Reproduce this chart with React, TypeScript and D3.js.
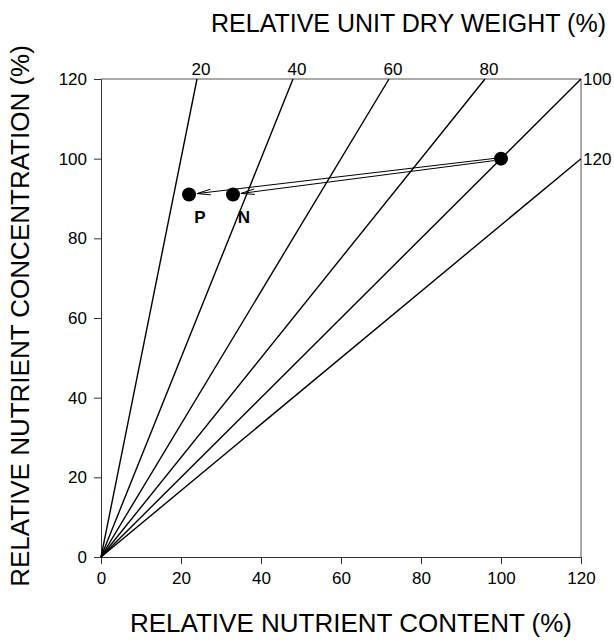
import * as d3 from "d3";
import { useEffect, useRef } from "react";

// dry weight isolines (%), concentration = content / weight * 100
const weights = [20, 40, 60, 80, 100, 120];
const ticks = [0, 20, 40, 60, 80, 100, 120];

// control point and the two nutrients
const start = { x: 100, y: 100 };
const nutrients = [
  { name: "P", x: 22, y: 91 },
  { name: "N", x: 33, y: 91 },
];

const App = () => {
  const ref = useRef(null);

  const margin = { top: 79, left: 101, right: 33, bottom: 83 };
  const width = 614;
  const height = 640;

  useEffect(() => {
    const svg = d3.select(ref.current);
    svg.selectAll("*").remove();

    const x = d3.scaleLinear().domain([0, 120]).range([margin.left, width - margin.right]);
    const y = d3.scaleLinear().domain([0, 120]).range([height - margin.bottom, margin.top]);
    const font = "'Liberation Sans', Arial, sans-serif";

    // frame top and right
    svg.append("line")
      .attr("x1", x(0)).attr("x2", x(120)).attr("y1", y(120)).attr("y2", y(120))
      .attr("stroke", "#555").attr("stroke-width", 1);
    svg.append("line")
      .attr("x1", x(120)).attr("x2", x(120)).attr("y1", y(0)).attr("y2", y(120))
      .attr("stroke", "#555").attr("stroke-width", 1);

    // axes
    const gx = svg.append("g")
      .attr("transform", `translate(0, ${y(0)})`)
      .call(d3.axisBottom(x).tickValues(ticks).tickSize(7).tickPadding(8));
    const gy = svg.append("g")
      .attr("transform", `translate(${x(0)}, 0)`)
      .call(d3.axisLeft(y).tickValues(ticks).tickSize(7).tickPadding(7));
    [gx, gy].forEach(g => {
      g.selectAll("text").style("font-family", font).style("font-size", "17px").attr("fill", "#000");
      g.selectAll("path, line").attr("stroke", "#333");
    });

    // isolines
    weights.forEach(w => {
      let ex = 120, ey = 120 * 100 / w;
      if (ey > 120) { ey = 120; ex = 120 * w / 100; }
      svg.append("line")
        .attr("x1", x(0)).attr("y1", y(0)).attr("x2", x(ex)).attr("y2", y(ey))
        .attr("stroke", "#000").attr("stroke-width", 1.4);
      const onTop = ey === 120 && ex < 120;
      svg.append("text")
        .attr("x", onTop ? x(ex) + 4 : x(ex) + 2)
        .attr("y", onTop ? y(ey) - 4 : y(ey) + 6)
        .attr("text-anchor", onTop ? "middle" : "start")
        .style("font-family", font).style("font-size", "17px")
        .text(w);
    });

    // arrows
    const r = 7;
    nutrients.forEach((n, i) => {
      const x0 = x(start.x), y0 = y(start.y), x1 = x(n.x), y1 = y(n.y);
      const a = Math.atan2(y1 - y0, x1 - x0);
      const sx = x0 + Math.cos(a) * r, sy = y0 + Math.sin(a) * r + (i === 0 ? -1 : 1);
      const tx = x1 - Math.cos(a) * (r + 1), ty = y1 - Math.sin(a) * (r + 1);
      svg.append("line")
        .attr("x1", sx).attr("y1", sy).attr("x2", tx).attr("y2", ty)
        .attr("stroke", "#000").attr("stroke-width", 1);
      const hl = 14, ha = 0.2;
      [a + ha, a - ha].forEach(b => {
        svg.append("line")
          .attr("x1", tx).attr("y1", ty)
          .attr("x2", tx - Math.cos(b) * hl).attr("y2", ty - Math.sin(b) * hl)
          .attr("stroke", "#000").attr("stroke-width", 1);
      });
    });

    // points
    svg.append("circle").attr("cx", x(start.x)).attr("cy", y(start.y)).attr("r", r).attr("fill", "#000");
    nutrients.forEach(n => {
      svg.append("circle").attr("cx", x(n.x)).attr("cy", y(n.y)).attr("r", r).attr("fill", "#000");
      svg.append("text")
        .attr("x", x(n.x) + 11).attr("y", y(n.y) + 28)
        .attr("text-anchor", "middle")
        .style("font-family", font).style("font-size", "17px").style("font-weight", "bold")
        .text(n.name);
    });

    // titles
    svg.append("text")
      .attr("x", 351).attr("y", 632)
      .attr("text-anchor", "middle")
      .style("font-family", font).style("font-size", "26px")
      .text("RELATIVE NUTRIENT CONTENT (%)");
    svg.append("text")
      .attr("x", 606).attr("y", 32)
      .attr("text-anchor", "end")
      .style("font-family", font).style("font-size", "25px")
      .text("RELATIVE UNIT DRY WEIGHT (%)");
    svg.append("text")
      .attr("transform", `translate(29, 316) rotate(-90)`)
      .attr("text-anchor", "middle")
      .style("font-family", font).style("font-size", "26px")
      .text("RELATIVE NUTRIENT CONCENTRATION (%)");
  }, []);

  return (
    <svg ref={ref} width={width} height={height}
      style={{ position: "absolute", left: 0, top: 0, background: "#fff" }} />
  );
};

export default App;
